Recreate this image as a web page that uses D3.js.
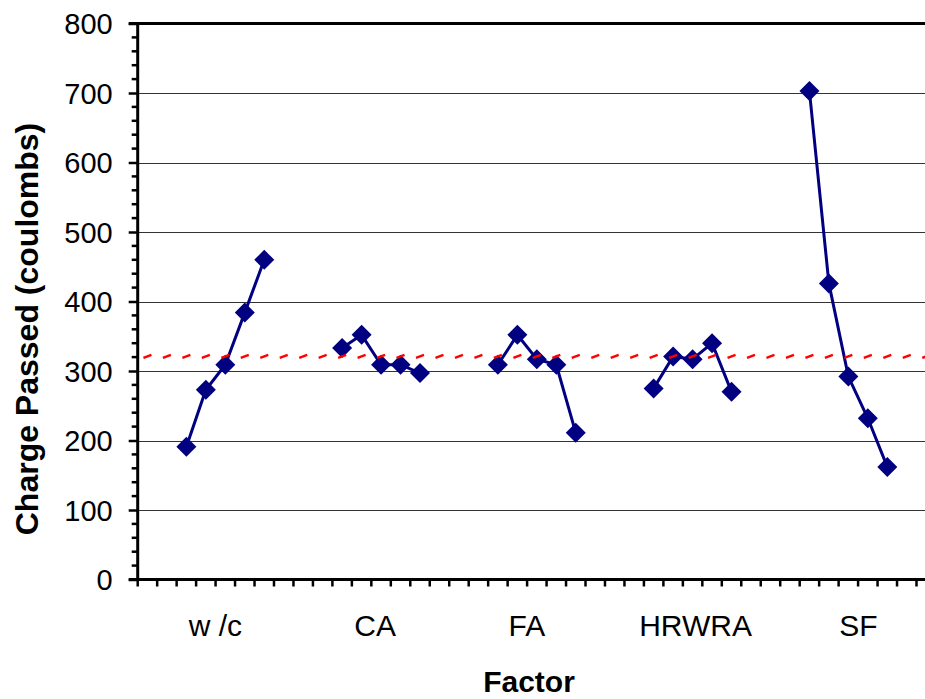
<!DOCTYPE html>
<html><head><meta charset="utf-8">
<script src="https://cdnjs.cloudflare.com/ajax/libs/d3/7.8.5/d3.min.js"></script>
<style>body{margin:0;background:#fff;overflow:hidden}svg{display:block}</style>
</head><body>
<svg id="chart" width="925" height="699"></svg>
<script>
// ---- data ----
const factors = ["w/c", "CA", "FA", "HRWRA", "SF"];
const wcValues = [191, 273, 309, 384, 460];
const caValues = [333, 352, 309, 309, 297];
const faValues = [309, 352, 317, 309, 211];
const hrwraValues = [275, 321, 317, 340, 270];
const sfValues = [703, 426, 292, 232, 162];
const yTickValues = [0, 100, 200, 300, 400, 500, 600, 700, 800];
const referenceLine = 321;
const yTitle = "Charge Passed (coulombs)";
const xTitle = "Factor";

const groups = [wcValues, caValues, faValues, hrwraValues, sfValues];

// ---- layout ----
const svg = d3.select("#chart");
const plotLeft = 137.7, plotTop = 23.5, plotBottom = 579.5;
const nCats = 41;          // 2 blank + 5 groups of 5 separated by 3 blanks + 2 blank
const step = 19.47;
const font = "'Liberation Sans', Arial, sans-serif";

const x = d3.scaleBand().domain(d3.range(nCats)).range([plotLeft, plotLeft + nCats * step]).padding(0);
const y = d3.scaleLinear().domain([0, 800]).range([plotBottom, plotTop]);

const points = [];
groups.forEach((vals, g) => {
  vals.forEach((v, i) => points.push({ g, idx: 2 + g * 8 + i, v }));
});
const cx = d => x(d.idx) + x.bandwidth() / 2;

// gridlines
svg.append("g").selectAll("line").data(yTickValues.filter(t => t > 0 && t < 800)).join("line")
  .attr("x1", plotLeft).attr("x2", 925)
  .attr("y1", d => Math.round(y(d)) + 0.5).attr("y2", d => Math.round(y(d)) + 0.5)
  .attr("stroke", "#333").attr("stroke-width", 1.2);

// top border
svg.append("line").attr("x1", plotLeft - 9).attr("x2", 925)
  .attr("y1", y(800)).attr("y2", y(800)).attr("stroke", "#000").attr("stroke-width", 3);

// y axis
const yAxis = d3.axisLeft(y).tickValues(yTickValues).tickSize(9).tickPadding(16)
  .tickFormat(d3.format("d"));
const gy = svg.append("g").attr("transform", `translate(${plotLeft},0)`).call(yAxis);
gy.select(".domain").remove();
gy.selectAll(".tick line").attr("stroke", "#000").attr("stroke-width", 2.5);
gy.selectAll(".tick text").attr("font-family", font).attr("font-size", 29).attr("fill", "#000")
  .attr("dy", "0.36em");
const minor = d3.range(0, 801, 20).filter(v => v % 100 !== 0);
svg.append("g").selectAll("line").data(minor).join("line")
  .attr("x1", plotLeft - 6).attr("x2", plotLeft)
  .attr("y1", d => y(d)).attr("y2", d => y(d))
  .attr("stroke", "#000").attr("stroke-width", 2.5);
svg.append("line").attr("x1", plotLeft).attr("x2", plotLeft).attr("y1", plotTop - 1.5).attr("y2", plotBottom + 1.5)
  .attr("stroke", "#000").attr("stroke-width", 3);

// x axis
svg.append("g").selectAll("line").data(d3.range(nCats + 1)).join("line")
  .attr("x1", d => plotLeft + d * step).attr("x2", d => plotLeft + d * step)
  .attr("y1", plotBottom).attr("y2", plotBottom + 7)
  .attr("stroke", "#000").attr("stroke-width", 2.5);
svg.append("line").attr("x1", plotLeft - 9).attr("x2", 925).attr("y1", plotBottom).attr("y2", plotBottom)
  .attr("stroke", "#000").attr("stroke-width", 3);

// category labels
const labelNudge = [-10, -6, -10, 3, 10];
svg.append("g").selectAll("text").data(factors).join("text")
  .attr("x", (d, g) => x(2 + g * 8 + 2) + x.bandwidth() / 2 + labelNudge[g])
  .attr("y", 636)
  .attr("text-anchor", "middle").attr("font-family", font).attr("font-size", 30)
  .text(d => d === "w/c" ? "w /c" : d);

// axis titles
svg.append("text").attr("x", 529).attr("y", 692).attr("text-anchor", "middle")
  .attr("font-family", font).attr("font-size", 30).attr("font-weight", "bold").text(xTitle);
svg.append("text").attr("transform", "translate(38,329) rotate(-90)").attr("text-anchor", "middle")
  .attr("font-family", font).attr("font-size", 32).attr("font-weight", "bold").text(yTitle);

// data lines
const line = d3.line().x(cx).y(d => y(d.v));
groups.forEach((vals, g) => {
  svg.append("path").datum(points.filter(p => p.g === g))
    .attr("d", line).attr("fill", "none").attr("stroke", "#000080").attr("stroke-width", 3);
});
// markers
const r = 10;
svg.append("g").selectAll("path").data(points).join("path")
  .attr("d", d => `M${cx(d)},${y(d.v) - r}L${cx(d) + r},${y(d.v)}L${cx(d)},${y(d.v) + r}L${cx(d) - r},${y(d.v)}Z`)
  .attr("fill", "#000080");

// reference line (dashes centered on each category)
svg.append("g").selectAll("line").data(d3.range(nCats)).join("line")
  .attr("x1", d => x(d) + x.bandwidth() / 2 - 4).attr("x2", d => x(d) + x.bandwidth() / 2 + 4)
  .attr("y1", y(referenceLine) + 1.5).attr("y2", y(referenceLine) - 1.5)
  .attr("stroke", "#ff0000").attr("stroke-width", 2.5);
</script>
</body></html>
